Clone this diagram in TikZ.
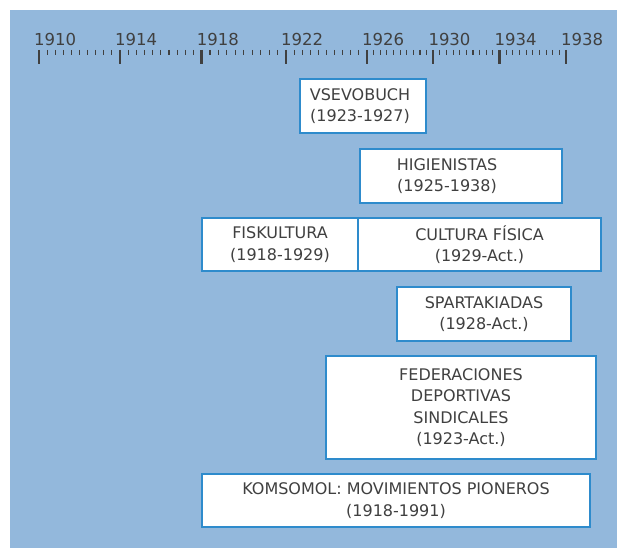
\documentclass[tikz,border=0pt]{standalone}
\usepackage{fontspec}
\setmainfont{DejaVu Sans}
\usepackage{tikz}

\definecolor{bgblue}{RGB}{147,184,220}
\definecolor{boxblue}{RGB}{46,139,204}
\definecolor{txtgray}{RGB}{64,64,64}
\definecolor{tickgray}{RGB}{64,64,64}

\begin{document}
\begin{tikzpicture}[x=1pt,y=-1pt,
  box/.style={draw=boxblue,line width=1.4pt,fill=white,inner sep=0pt,align=center,
    text=txtgray,font=\fontsize{16}{21.5}\selectfont},
  year/.style={anchor=base west,inner sep=0pt,text=txtgray,font=\fontsize{16.5}{18}\selectfont},
  major/.style={tickgray,line width=2.3pt},
  minor/.style={tickgray,line width=1.1pt}]
\useasboundingbox (0,0) rectangle (617,548);
\fill[bgblue] (10,10) rectangle (617,548);

% time axis
\foreach \x/\yr in {39/1910,120/1914,201.6/1918,286/1922,367/1926,433.3/1930,499.5/1934,566/1938}{
  \draw[major] (\x,50) -- (\x,64);
  \node[year] (y\yr) at (\x-5,46) {\yr};
}
\foreach \a/\b in {39/120,120/201.6,201.6/286,286/367,367/433.3,433.3/499.5,499.5/566}
  \foreach \i in {1,...,9}
    \draw[minor] ({\a+\i*(\b-\a)/10},50) -- +(0,5);

% periods
\node[box,minimum width=126pt,minimum height=54pt] (vsevobuch) at (363,106) {\hspace*{-6pt}VSEVOBUCH\\\hspace*{-6pt}(1923-1927)};
\node[box,minimum width=202pt,minimum height=54pt] (higienistas) at (461,176) {};
\node[box,draw=none,fill=none] (higtext) at (447,176) {HIGIENISTAS\\(1925-1938)};
\node[box,minimum width=156pt,minimum height=53pt] (fiskultura) at (280,244.5) {FISKULTURA\\(1918-1929)};
\node[box,minimum width=243pt,minimum height=53pt] (cultura) at (479.5,244.5) {CULTURA FÍSICA\\(1929-Act.)};
\node[box,minimum width=174pt,minimum height=54pt] (spartakiadas) at (484,314) {SPARTAKIADAS\\(1928-Act.)};
\node[box,minimum width=270pt,minimum height=103pt] (federaciones) at (461,407.5) {FEDERACIONES\\DEPORTIVAS\\SINDICALES\\(1923-Act.)};
\node[box,minimum width=388pt,minimum height=53pt] (komsomol) at (396,500.5) {KOMSOMOL: MOVIMIENTOS PIONEROS\\(1918-1991)};

\end{tikzpicture}
\end{document}
